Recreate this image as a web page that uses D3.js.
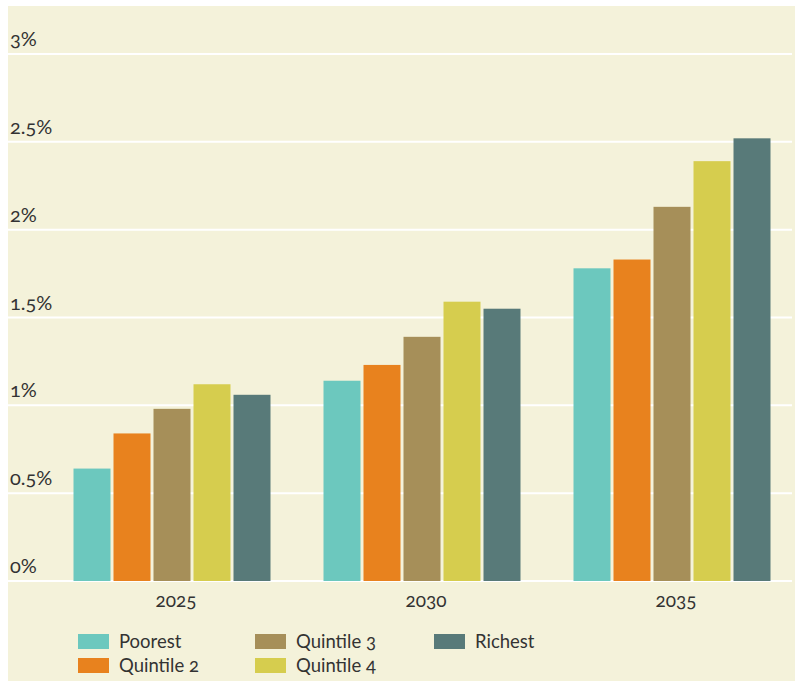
<!DOCTYPE html>
<html>
<head>
<meta charset="utf-8">
<script src="https://cdn.jsdelivr.net/npm/d3@7"></script>
<style>
  html, body { margin: 0; padding: 0; background: #ffffff; }
  svg { display: block; }
  text { font-family: Lato, "Noto Sans", sans-serif; fill: #333333; font-variant-numeric: oldstyle-nums; font-feature-settings: "onum" 1; }
</style>
</head>
<body>
<svg id="chart" width="798" height="681"></svg>
<script>
// Annual change by income quintile
const years = ["2025", "2030", "2035"];
const quintiles = ["Poorest", "Quintile 2", "Quintile 3", "Quintile 4", "Richest"];
const poorest   = [0.64, 1.14, 1.78];
const quintile2 = [0.84, 1.23, 1.83];
const quintile3 = [0.98, 1.39, 2.13];
const quintile4 = [1.12, 1.59, 2.39];
const richest   = [1.06, 1.55, 2.52];
const yTicks = [0, 0.5, 1, 1.5, 2, 2.5, 3];
const yTickLabels = ["0%", "0.5%", "1%", "1.5%", "2%", "2.5%", "3%"];
const colors = ["#6cc8be", "#e8821e", "#a68f59", "#d6cd4e", "#587a79"];

const seriesValues = [poorest, quintile2, quintile3, quintile4, richest];
const rows = years.map((yr, i) => ({
  year: yr,
  values: quintiles.map((q, j) => ({ key: q, value: seriesValues[j][i] }))
}));

const svg = d3.select("#chart");

// panel background
svg.append("rect")
  .attr("x", 8).attr("y", 6)
  .attr("width", 787).attr("height", 675)
  .attr("fill", "#f4f2da");

const y = d3.scaleLinear().domain([0, 3]).range([581, 54]);
const x0 = d3.scaleBand().domain(years).range([47, 797])
  .paddingInner(0.212).paddingOuter(0.106);
const x1 = d3.scaleBand().domain(quintiles).range([0, x0.bandwidth()])
  .paddingInner(0.075).paddingOuter(0);
const color = d3.scaleOrdinal().domain(quintiles).range(colors);

// horizontal gridlines
svg.append("g").selectAll("line").data(yTicks).join("line")
  .attr("x1", 8).attr("x2", 792)
  .attr("y1", d => y(d)).attr("y2", d => y(d))
  .attr("stroke", "#ffffff").attr("stroke-width", 2);

// y tick labels, sitting above each gridline
svg.append("g").selectAll("text").data(yTicks).join("text")
  .attr("x", 10).attr("y", d => y(d) - 8)
  .attr("font-size", 20)
  .text((d, i) => yTickLabels[i]);

// bars
const groups = svg.append("g").selectAll("g").data(rows).join("g")
  .attr("transform", d => `translate(${x0(d.year)},0)`);
groups.selectAll("rect").data(d => d.values).join("rect")
  .attr("x", d => x1(d.key))
  .attr("width", x1.bandwidth())
  .attr("y", d => y(d.value))
  .attr("height", d => y(0) - y(d.value))
  .attr("fill", d => color(d.key));

// x axis labels
svg.append("g").selectAll("text").data(years).join("text")
  .attr("x", d => x0(d) + x0.bandwidth() / 2 + 4)
  .attr("y", 607)
  .attr("text-anchor", "middle")
  .attr("font-size", 19)
  .text(d => d);

// legend: three columns, two rows
const legendPos = [
  [78, 634], [78, 658], [255, 634], [255, 658], [434, 634]
];
const legend = svg.append("g").selectAll("g").data(quintiles).join("g")
  .attr("transform", (d, i) => `translate(${legendPos[i][0]},${legendPos[i][1]})`);
legend.append("rect")
  .attr("width", 31).attr("height", 15)
  .attr("fill", d => color(d));
legend.append("text")
  .attr("x", 41).attr("y", 14)
  .attr("font-size", 18.5)
  .text(d => d);
</script>
</body>
</html>
